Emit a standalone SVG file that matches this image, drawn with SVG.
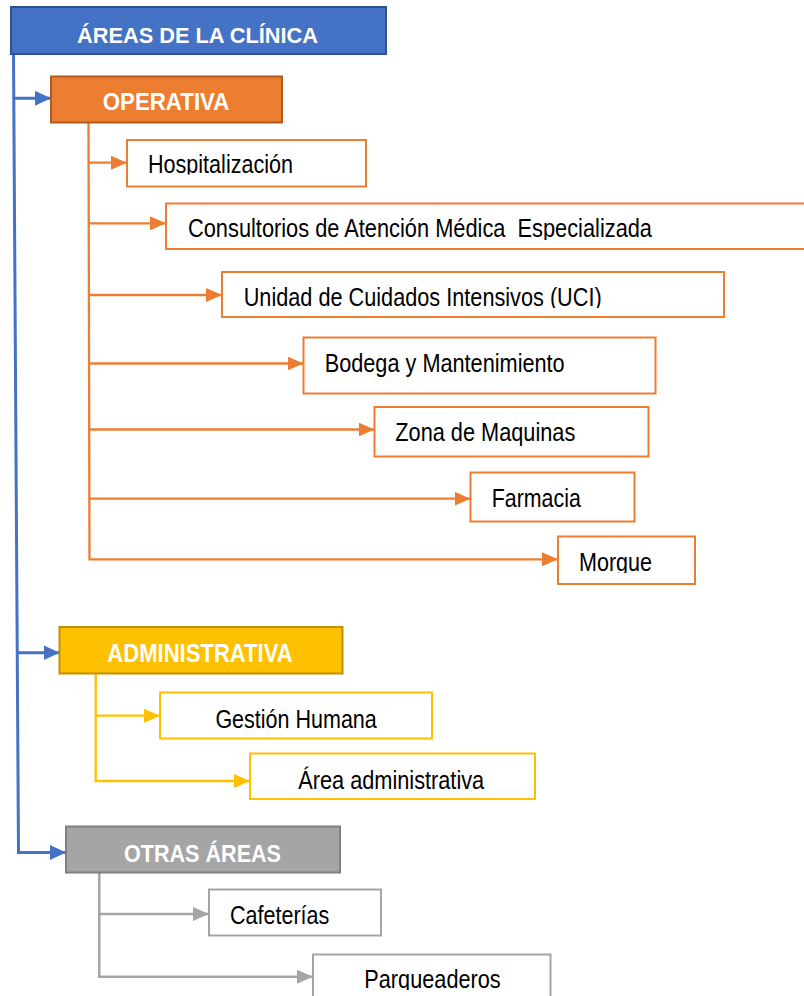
<svg xmlns="http://www.w3.org/2000/svg" width="804" height="996" viewBox="0 0 804 996">
<style>
  .lbl { font-family: "Liberation Sans", Arial, sans-serif; font-size: 25px; fill: #000; white-space: pre; }
  .hdr { font-family: "Liberation Sans", Arial, sans-serif; font-weight: bold; fill: #fff; }
  .box { fill: #fff; stroke-width: 2; }
  .bo { stroke: #ED7D31; }
  .by { stroke: #FFC000; }
  .bg { stroke: #A5A5A5; }
  .c { fill: none; stroke-linejoin: miter; }
  .co { stroke: #ED7D31; stroke-width: 2.3; marker-end: url(#ao); }
  .cb { stroke: #4472C4; stroke-width: 3; marker-end: url(#ab); }
  .cy { stroke: #FFC000; stroke-width: 2.3; marker-end: url(#ay); }
  .cg { stroke: #A5A5A5; stroke-width: 2.5; marker-end: url(#ag); }
</style>
<defs>
  <marker id="ao" markerUnits="userSpaceOnUse" markerWidth="17" markerHeight="15" refX="16" refY="7" orient="auto"><path d="M0,0 L16,7 L0,14 z" fill="#ED7D31"/></marker>
  <marker id="ab" markerUnits="userSpaceOnUse" markerWidth="17" markerHeight="16" refX="16" refY="7.5" orient="auto"><path d="M0,0 L16,7.5 L0,15 z" fill="#4472C4"/></marker>
  <marker id="ay" markerUnits="userSpaceOnUse" markerWidth="17" markerHeight="15" refX="16" refY="7" orient="auto"><path d="M0,0 L16,7 L0,14 z" fill="#FFC000"/></marker>
  <marker id="ag" markerUnits="userSpaceOnUse" markerWidth="17" markerHeight="15" refX="16" refY="7" orient="auto"><path d="M0,0 L16,7 L0,14 z" fill="#A5A5A5"/></marker>
  <clipPath id="clipHosp"><rect x="0" y="0" width="804" height="174.5"/></clipPath>
  <clipPath id="clipCons"><rect x="0" y="0" width="804" height="240"/></clipPath>
  <clipPath id="clipUci"><rect x="0" y="0" width="804" height="308"/></clipPath>
  <clipPath id="clipMorg"><rect x="0" y="0" width="804" height="573"/></clipPath>
  <clipPath id="clipParq"><rect x="0" y="0" width="804" height="990"/></clipPath>
</defs>
<rect width="804" height="996" fill="#fff"/>

<g id="connectors">
  <path class="c cb" d="M13.5,54 L18.5,852.5 L66,852.5"/>
  <path class="c cb" d="M13.8,98.3 L51,98.3"/>
  <path class="c cb" d="M17.3,652.7 L59.5,652.7"/>

  <path class="c co" d="M88.5,122.7 L89.5,559.3 L558,559.3"/>
  <path class="c co" d="M88.6,162.7 L127,162.7"/>
  <path class="c co" d="M88.8,223.3 L166,223.3"/>
  <path class="c co" d="M89,295 L222,295"/>
  <path class="c co" d="M89,363.5 L303.5,363.5"/>
  <path class="c co" d="M89.2,429.5 L374.5,429.5"/>
  <path class="c co" d="M89.3,498.7 L470.5,498.7"/>

  <path class="c cy" d="M95.7,673.7 L95.7,781 L250,781"/>
  <path class="c cy" d="M95.7,715.7 L160,715.7"/>

  <path class="c cg" d="M99.3,872.7 L99.3,976.7 L313,976.7"/>
  <path class="c cg" d="M99.3,914 L209,914"/>
</g>

<g id="title">
  <rect x="11" y="7" width="375" height="47" fill="#4472C4" stroke="#2F528F" stroke-width="2"/>
  <text class="hdr" x="77" y="42.7" font-size="22" textLength="241" lengthAdjust="spacingAndGlyphs">ÁREAS DE LA CLÍNICA</text>
</g>

<g id="operativa">
  <rect x="51" y="76.5" width="231" height="46" fill="#ED7D31" stroke="#AE5A21" stroke-width="2"/>
  <text class="hdr" x="102.7" y="110" font-size="24" textLength="126.7" lengthAdjust="spacingAndGlyphs">OPERATIVA</text>
</g>

<g id="hospitalizacion">
  <rect class="box bo" x="127" y="140" width="239" height="46.5"/>
  <text class="lbl" x="148" y="173.3" textLength="145" lengthAdjust="spacingAndGlyphs" clip-path="url(#clipHosp)">Hospitalización</text>
</g>

<g id="consultorios">
  <rect class="box bo" x="166" y="203.5" width="650" height="45.5"/>
  <text class="lbl" x="188" y="237" textLength="464" lengthAdjust="spacingAndGlyphs" clip-path="url(#clipCons)">Consultorios de Atención Médica  Especializada</text>
</g>

<g id="uci">
  <rect class="box bo" x="222" y="272" width="502" height="45"/>
  <text class="lbl" x="243.7" y="306" textLength="358" lengthAdjust="spacingAndGlyphs" clip-path="url(#clipUci)">Unidad de Cuidados Intensivos (UCI)</text>
</g>

<g id="bodega">
  <rect class="box bo" x="303.5" y="337.5" width="352" height="56"/>
  <text class="lbl" x="324.7" y="371.5" textLength="240" lengthAdjust="spacingAndGlyphs">Bodega y Mantenimiento</text>
</g>

<g id="zona">
  <rect class="box bo" x="374.5" y="407" width="274" height="49.5"/>
  <text class="lbl" x="395.3" y="440.7" textLength="180" lengthAdjust="spacingAndGlyphs">Zona de Maquinas</text>
</g>

<g id="farmacia">
  <rect class="box bo" x="470.5" y="472.5" width="164" height="49"/>
  <text class="lbl" x="491.8" y="506.5" textLength="89" lengthAdjust="spacingAndGlyphs">Farmacia</text>
</g>

<g id="morgue">
  <rect class="box bo" x="558" y="536.5" width="137" height="47.5"/>
  <text class="lbl" x="579" y="571" textLength="73" lengthAdjust="spacingAndGlyphs" clip-path="url(#clipMorg)">Morgue</text>
</g>

<g id="administrativa">
  <rect x="59.5" y="627" width="283" height="46.5" fill="#FFC000" stroke="#BF9000" stroke-width="2"/>
  <text class="hdr" x="107.3" y="661.7" font-size="25" textLength="185.4" lengthAdjust="spacingAndGlyphs">ADMINISTRATIVA</text>
</g>

<g id="gestion">
  <rect class="box by" x="160" y="692.5" width="272" height="46"/>
  <text class="lbl" x="215.4" y="727.7" textLength="161.4" lengthAdjust="spacingAndGlyphs">Gestión Humana</text>
</g>

<g id="area-administrativa">
  <rect class="box by" x="250" y="753.5" width="285" height="45.5"/>
  <text class="lbl" x="298.2" y="789" textLength="186" lengthAdjust="spacingAndGlyphs">Área administrativa</text>
</g>

<g id="otras">
  <rect x="66" y="826.5" width="274" height="46" fill="#A5A5A5" stroke="#7F7F7F" stroke-width="2"/>
  <text class="hdr" x="124" y="861.7" font-size="23" textLength="157" lengthAdjust="spacingAndGlyphs">OTRAS ÁREAS</text>
</g>

<g id="cafeterias">
  <rect class="box bg" x="209" y="889.5" width="172" height="46"/>
  <text class="lbl" x="230" y="924" textLength="99.3" lengthAdjust="spacingAndGlyphs">Cafeterías</text>
</g>

<g id="parqueaderos">
  <rect class="box bg" x="313" y="954.5" width="237.5" height="60"/>
  <text class="lbl" x="364.3" y="988.3" textLength="136.4" lengthAdjust="spacingAndGlyphs" clip-path="url(#clipParq)">Parqueaderos</text>
</g>
</svg>
